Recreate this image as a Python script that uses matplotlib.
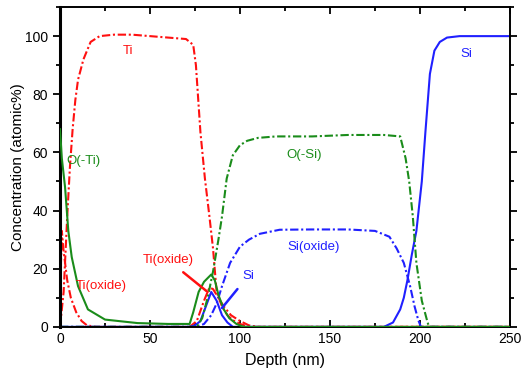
import numpy as np
import matplotlib
matplotlib.use('Agg')
import matplotlib.pyplot as plt
from matplotlib.ticker import MultipleLocator

plt.rcParams['font.family'] = ['Liberation Sans', 'DejaVu Sans']

# depth profiles (depth in nm, concentration in atomic %)
ti_x = [0, 2, 4, 5.5, 7, 8.5, 10, 13, 17, 22, 30, 40, 50, 60, 70, 74, 75.5, 78, 80.5,
        83, 85, 87, 90, 93, 96, 100, 105, 250]
ti_y = [0, 12, 38, 55, 68, 78, 85, 92, 98, 100, 100.5, 100.5, 100, 99.5, 99, 97, 90, 67, 51,
        38, 27, 12, 7, 4, 2.3, 1, 0, 0]

tiox_x = [0, 1, 2, 4, 6, 9, 12, 15, 20, 72, 76, 80, 83, 85, 88, 91, 95, 100, 105, 110, 250]
tiox_y = [10, 33, 26, 16, 10, 5, 2, 0.5, 0, 0, 2, 9, 13.5, 13, 10, 7, 4, 2, 0.5, 0, 0]

oti_x = [0, 1, 2.8, 4.6, 6.5, 10, 15.5, 25, 43, 60, 72, 74, 77, 80, 84, 86, 88, 91, 94, 98,
         102, 250]
oti_y = [68, 58, 48, 33, 24, 14, 6, 2.5, 1.3, 1, 1, 5, 12, 15.5, 18, 16, 11, 6, 3, 1, 0, 0]

osi_x = [0, 76, 79, 82, 85, 88, 90, 92.6, 96, 100, 104, 110, 120, 140, 160, 180, 189, 192,
         194, 196, 198, 201, 204, 205, 250]
osi_y = [0, 0, 3, 10, 19, 30, 38, 51, 59, 62.5, 64, 65, 65.5, 65.5, 66, 66, 65.5, 58,
         50, 38, 22, 9, 2, 0, 0]

si_x = [0, 72, 75, 78, 81, 84, 87, 90, 93, 96, 180, 185, 189, 191, 193, 195.5, 198, 201,
        203, 205.5, 208, 211, 215, 222, 250]
si_y = [0, 0, 0.5, 2, 7, 12, 9, 4, 1.5, 0, 0, 1.5, 6, 10, 16, 25, 33, 50,
        67, 87, 95, 98, 99.5, 100, 100]

siox_x = [0, 76, 80, 84, 87, 90, 94.5, 100, 105, 111, 122, 140, 160, 175, 183, 187, 191,
          194.5, 197, 199, 200.5, 250]
siox_y = [0, 0, 1, 4, 8, 14, 22, 27.6, 30, 32, 33.4, 33.5, 33.5, 33, 31, 27, 22,
          14, 7, 2.4, 0, 0]

red = '#ff1010'
green = '#1a8c1a'
blue = '#2020ff'
dashdot = (0, (4, 1.3, 1, 1.3))

fig = plt.figure(figsize=(5.22, 3.71), dpi=100)
ax = fig.add_axes([0.115, 0.119, 0.862, 0.862])

ax.plot(ti_x, ti_y, color=red, lw=1.5, linestyle=dashdot)
ax.plot(tiox_x, tiox_y, color=red, lw=1.5, linestyle=dashdot)
ax.plot(siox_x, siox_y, color=blue, lw=1.5, linestyle=dashdot)
ax.plot(si_x, si_y, color=blue, lw=1.5)
ax.plot(osi_x, osi_y, color=green, lw=1.5, linestyle=dashdot)
ax.plot(oti_x, oti_y, color=green, lw=1.5, zorder=3)

# labels on the curves
ax.text(38, 95, 'Ti', color=red, fontsize=9.5, ha='center', va='center')
ax.text(3.5, 57, 'O(-Ti)', color=green, fontsize=9.5, ha='left', va='center')
ax.text(9, 14, 'Ti(oxide)', color=red, fontsize=9.5, ha='left', va='center')
ax.annotate('Ti(oxide)', xy=(82, 12), xytext=(60, 23), color=red, fontsize=9.5,
            ha='center', va='center',
            arrowprops=dict(arrowstyle='-', color=red, lw=1.8, shrinkA=4, shrinkB=0))
ax.annotate('Si', xy=(90, 6.5), xytext=(104.5, 17.5), color=blue, fontsize=9.5,
            ha='center', va='center',
            arrowprops=dict(arrowstyle='-', color=blue, lw=1.8, shrinkA=4, shrinkB=0))
ax.text(135.5, 59, 'O(-Si)', color=green, fontsize=9.5, ha='center', va='center')
ax.text(141, 27.6, 'Si(oxide)', color=blue, fontsize=9.5, ha='center', va='center')
ax.text(225.5, 94, 'Si', color=blue, fontsize=9.5, ha='center', va='center')

ax.set_xlim(0, 250)
ax.set_ylim(0, 110)
ax.xaxis.set_major_locator(MultipleLocator(50))
ax.xaxis.set_minor_locator(MultipleLocator(25))
ax.yaxis.set_major_locator(MultipleLocator(20))
ax.yaxis.set_minor_locator(MultipleLocator(10))
ax.tick_params(which='both', top=True, right=True, direction='in', labelsize=10,
               width=1.3)
ax.tick_params(axis='y', which='both', left=True, direction='out')
ax.tick_params(which='major', length=5)
ax.tick_params(which='minor', length=3)
for s in ax.spines.values():
    s.set_linewidth(1.4)
ax.spines['left'].set_linewidth(2.2)

ax.set_xlabel('Depth (nm)', fontsize=11.5, labelpad=5)
ax.set_ylabel('Concentration (atomic%)', fontsize=11, labelpad=0)

fig.savefig('out.png', dpi=100)
